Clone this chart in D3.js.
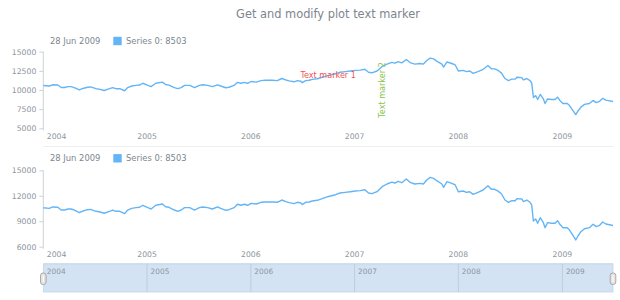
<!DOCTYPE html>
<html>
<head>
<meta charset="utf-8">
<script src="https://cdn.jsdelivr.net/npm/d3@7"></script>
<style>
  body { margin: 0; background: #fff; }
  svg { display: block; font-family: "DejaVu Sans", Verdana, sans-serif; }
</style>
</head>
<body>
<svg id="chart" width="620" height="300"></svg>
<script>
// values (weekly-ish samples)
const dates = [
  "2004-01-02","2004-01-23","2004-02-04","2004-02-22","2004-03-05","2004-03-17","2004-03-29","2004-04-09","2004-04-20","2004-05-08",
  "2004-05-20","2004-06-06","2004-06-17","2004-07-05","2004-07-16","2004-08-03","2004-08-22","2004-09-02","2004-09-13","2004-09-27",
  "2004-10-14","2004-10-25","2004-11-08","2004-11-23","2004-12-06","2004-12-17",
  "2005-01-04","2005-01-15","2005-02-01","2005-02-24","2005-03-07","2005-03-19","2005-04-07","2005-04-19","2005-05-01","2005-05-13",
  "2005-05-31","2005-06-17","2005-07-04","2005-07-16","2005-08-02","2005-08-19","2005-09-06","2005-09-17","2005-10-05","2005-10-16",
  "2005-11-03","2005-11-15","2005-11-27","2005-12-09","2005-12-21",
  "2006-01-02","2006-01-20","2006-02-06","2006-02-21","2006-03-17","2006-04-04","2006-04-20","2006-05-04","2006-05-16","2006-06-02",
  "2006-06-14","2006-06-26","2006-07-01","2006-07-13","2006-07-25","2006-08-05","2006-08-23","2006-09-09","2006-09-21","2006-10-08",
  "2006-10-26","2006-11-11","2006-11-29","2006-12-17",
  "2007-01-03","2007-01-21","2007-02-06","2007-02-19","2007-03-03","2007-03-21","2007-04-08","2007-04-25","2007-05-12","2007-05-23",
  "2007-06-03","2007-06-16","2007-07-02","2007-07-15","2007-08-01","2007-08-19","2007-08-31","2007-09-12","2007-09-24","2007-10-06",
  "2007-10-17","2007-11-04","2007-11-10","2007-11-22","2007-12-09","2007-12-21",
  "2008-01-01","2008-01-18","2008-01-30","2008-02-10","2008-02-22","2008-03-10","2008-03-28","2008-04-14","2008-04-26","2008-05-08",
  "2008-05-20","2008-06-01","2008-06-13","2008-06-25","2008-07-07","2008-07-19","2008-07-25","2008-08-11","2008-08-17","2008-08-29",
  "2008-09-09","2008-09-15","2008-09-21","2008-09-29","2008-10-06","2008-10-15","2008-10-26","2008-11-01","2008-11-10","2008-11-24",
  "2008-12-06","2008-12-15","2008-12-23",
  "2009-01-03","2009-01-18","2009-01-26","2009-02-06","2009-02-17","2009-02-25","2009-03-07","2009-03-20","2009-04-06","2009-04-19",
  "2009-04-30","2009-05-12","2009-05-23","2009-06-03","2009-06-28"
];
const values = [
  10590,10520,10680,10650,10330,10320,10440,10440,10320,10010,
  10200,10360,10400,10170,10120,9940,10170,10320,10170,10170,
  9900,10320,10520,10600,10650,10880,
  10600,10440,10880,11030,10710,10640,10320,10170,10320,10600,
  10600,10320,10600,10680,10600,10440,10680,10520,10290,10360,
  10600,11000,10880,11000,10880,
  11110,11030,11230,11270,11270,11230,11500,11310,11190,11070,
  11230,11150,10955,11230,11270,11385,11465,11660,11815,11970,
  12125,12325,12405,12480,
  12560,12600,12715,12325,12245,12480,13070,13385,13600,13500,
  13700,13540,13975,13580,13385,13460,13385,13855,14170,14055,
  13775,13385,12995,13660,13460,13270,
  12480,12560,12405,12480,12170,12405,12680,13190,12760,12760,
  12550,12210,11500,11230,11420,11420,11660,11620,11310,11500,
  11230,10915,9030,9265,8755,9420,8830,8240,8830,8755,
  8755,9065,8640,
  8240,8240,7965,7380,6790,7260,7770,8120,8240,8640,
  8360,8520,8910,8675,8503
];
const seriesName = "Series 0";
const yearTicks = ["2004-01-01","2005-01-01","2006-01-01","2007-01-01","2008-01-01","2009-01-01"];
const plot1Ticks = [5000, 7500, 10000, 12500, 15000];
const plot2Ticks = [6000, 9000, 12000, 15000];
const marker1 = { text: "Text marker 1", value: 12000 };
const marker2 = { text: "Text marker 2", value: "2007-04-06" };

const width = 620;
const parse = d3.timeParse("%Y-%m-%d");
const data = dates.map((d, i) => ({ date: parse(d), value: values[i] }));
const last = data[data.length - 1];

const left = 43.3, right = 613;
const labelColor = "#8e969d";
const textColor = "#7c868e";
const lineColor = "#64b5f6";

const svg = d3.select("#chart");

svg.append("text")
    .attr("x", 328)
    .attr("y", 14)
    .attr("text-anchor", "middle")
    .attr("dominant-baseline", "central")
    .style("font-size", "11.4px")
    .style("fill", textColor)
    .text("Get and modify plot text marker");

const x = d3.scaleTime()
    .domain([data[0].date, last.date])
    .range([left, right]);

const plots = [
    { top: 51.7, bottom: 128.3, domain: [5000, 15000], ticks: plot1Ticks, labelY: 136.6, sepY: 146.5, legendY: 41 },
    { top: 170.3, bottom: 246.7, domain: [6000, 15000], ticks: plot2Ticks, labelY: 254.4, sepY: 263.5, legendY: 158.3 }
];

const fmtLegend = d3.timeFormat("%d %b %Y");

plots.forEach((p, idx) => {
    const y = d3.scaleLinear().domain(p.domain).range([p.bottom, p.top]);
    p.y = y;
    const g = svg.append("g");

    // legend
    g.append("text")
        .attr("x", 50).attr("y", p.legendY)
        .attr("dominant-baseline", "central")
        .style("font-size", "8.4px").style("fill", textColor)
        .text(fmtLegend(last.date));
    g.append("rect")
        .attr("x", 113.3).attr("y", p.legendY - 4.2)
        .attr("width", 8.4).attr("height", 8.4)
        .attr("fill", lineColor);
    g.append("text")
        .attr("x", 126).attr("y", p.legendY)
        .attr("dominant-baseline", "central")
        .style("font-size", "8.4px").style("fill", textColor)
        .text(seriesName + ": " + last.value);

    // y axis
    const yAxis = g.append("g")
        .attr("transform", "translate(" + left + ",0)")
        .call(d3.axisLeft(y).tickValues(p.ticks).tickFormat(d3.format("d")).tickSize(4).tickPadding(3));
    yAxis.select(".domain").remove();
    yAxis.selectAll("line").attr("stroke", "#cfd3d6");
    yAxis.selectAll("text")
        .style("font-size", "7.7px")
        .style("font-family", "DejaVu Sans, Verdana, sans-serif")
        .style("fill", labelColor);
    g.append("line")
        .attr("x1", left).attr("x2", left)
        .attr("y1", p.top).attr("y2", p.bottom + 2)
        .attr("stroke", "#cfd3d6");

    // x axis labels
    yearTicks.forEach(t => {
        const d = parse(t);
        let xp = x(d);
        let anchor = "middle";
        if (xp - 10 < left) { xp = left + 3.5; anchor = "start"; }
        g.append("text")
            .attr("x", xp).attr("y", p.labelY)
            .attr("text-anchor", anchor)
            .attr("dominant-baseline", "central")
            .style("font-size", "7.7px").style("fill", labelColor)
            .text(d3.timeFormat("%Y")(d));
    });

    // separator under axis
    g.append("line")
        .attr("x1", left).attr("x2", right)
        .attr("y1", p.sepY).attr("y2", p.sepY)
        .attr("stroke", idx === 0 ? "#eeeeee" : "#dde5ee");

    // series
    const line = d3.line()
        .x(d => x(d.date))
        .y(d => y(d.value));
    g.append("path")
        .datum(data)
        .attr("fill", "none")
        .attr("stroke", lineColor)
        .attr("stroke-width", 1.4)
        .attr("stroke-linejoin", "round")
        .attr("d", line);
});

// text markers on first plot
const p1 = plots[0];
svg.append("text")
    .attr("x", (left + right) / 2)
    .attr("y", p1.y(marker1.value))
    .attr("text-anchor", "middle")
    .attr("dominant-baseline", "central")
    .style("font-size", "8.1px")
    .style("fill", "#f5524f")
    .text(marker1.text);

const m2x = x(parse(marker2.value));
const m2y = (p1.top + p1.bottom) / 2;
svg.append("text")
    .attr("transform", "translate(" + m2x + "," + m2y + ") rotate(-90)")
    .attr("text-anchor", "middle")
    .attr("dominant-baseline", "central")
    .style("font-size", "8.1px")
    .style("fill", "#8bc34a")
    .text(marker2.text);

// scroller
const sTop = 264, sBottom = 292;
const scroller = svg.append("g");
scroller.append("rect")
    .attr("x", left).attr("y", sTop)
    .attr("width", right - left).attr("height", sBottom - sTop)
    .attr("fill", "#d3e3f4")
    .attr("stroke", "#c4d4e6").attr("stroke-width", 0.8);
yearTicks.forEach((t, i) => {
    const xp = x(parse(t));
    const xs = Math.max(xp, left);
    if (i > 0) {
        scroller.append("line")
            .attr("x1", xs).attr("x2", xs)
            .attr("y1", sTop).attr("y2", sBottom)
            .attr("stroke", "#bfcddd");
    }
    scroller.append("text")
        .attr("x", (i === 0 ? left : xs) + 3.5)
        .attr("y", 271.7)
        .attr("dominant-baseline", "central")
        .style("font-size", "7.4px").style("fill", labelColor)
        .text(t.slice(0, 4));
});
[left, right].forEach(hx => {
    scroller.append("rect")
        .attr("x", hx - 2.8).attr("y", 273)
        .attr("width", 5.6).attr("height", 11.5)
        .attr("rx", 2.5)
        .attr("fill", "#e4e4e4")
        .attr("stroke", "#9a9a9a").attr("stroke-width", 0.8);
    scroller.append("line")
        .attr("x1", hx).attr("x2", hx)
        .attr("y1", 275.5).attr("y2", 282)
        .attr("stroke", "#ffffff").attr("stroke-width", 1);
});
</script>
</body>
</html>
